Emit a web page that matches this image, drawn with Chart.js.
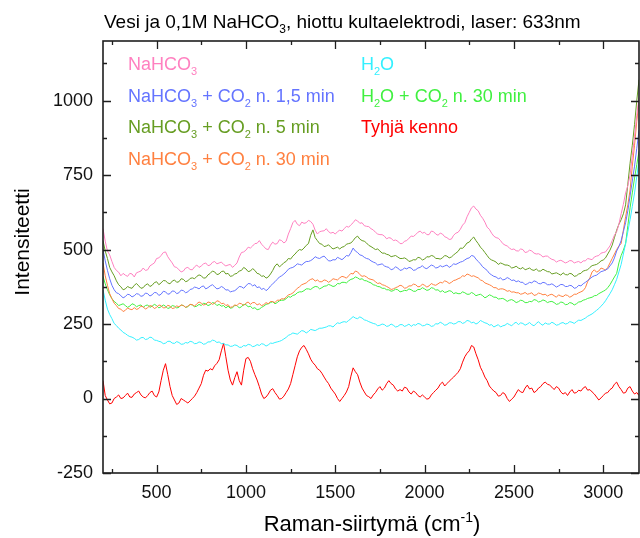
<!DOCTYPE html>
<html lang="fi">
<head>
<meta charset="UTF-8">
<title>Vesi ja 0,1M NaHCO3</title>
<script src="https://cdn.jsdelivr.net/npm/chart.js"></script>
<style>
  html, body { margin: 0; padding: 0; background: #fff; }
  #wrap { width: 640px; height: 538px; }
</style>
</head>
<body>
<div id="wrap"><canvas id="spectra" width="640" height="538"></canvas></div>
<script>
// Raman shift (cm-1)
const shifts = [
  200, 212.5, 225, 237.5, 250, 262.5, 275, 287.5, 300, 312.5, 325, 337.5, 350, 362.5, 375, 387.5, 400, 412.5, 425, 437.5,
  450, 462.5, 475, 487.5, 500, 512.5, 525, 537.5, 550, 562.5, 575, 587.5, 600, 612.5, 625, 637.5, 650, 662.5, 675, 687.5,
  700, 712.5, 725, 737.5, 750, 762.5, 775, 787.5, 800, 812.5, 825, 837.5, 850, 862.5, 875, 887.5, 900, 912.5, 925, 937.5,
  950, 962.5, 975, 987.5, 1000, 1012.5, 1025, 1037.5, 1050, 1062.5, 1075, 1087.5, 1100, 1112.5, 1125, 1137.5, 1150, 1162.5, 1175, 1187.5,
  1200, 1212.5, 1225, 1237.5, 1250, 1262.5, 1275, 1287.5, 1300, 1312.5, 1325, 1337.5, 1350, 1362.5, 1375, 1387.5, 1400, 1412.5, 1425, 1437.5,
  1450, 1462.5, 1475, 1487.5, 1500, 1512.5, 1525, 1537.5, 1550, 1562.5, 1575, 1587.5, 1600, 1612.5, 1625, 1637.5, 1650, 1662.5, 1675, 1687.5,
  1700, 1712.5, 1725, 1737.5, 1750, 1762.5, 1775, 1787.5, 1800, 1812.5, 1825, 1837.5, 1850, 1862.5, 1875, 1887.5, 1900, 1912.5, 1925, 1937.5,
  1950, 1962.5, 1975, 1987.5, 2000, 2012.5, 2025, 2037.5, 2050, 2062.5, 2075, 2087.5, 2100, 2112.5, 2125, 2137.5, 2150, 2162.5, 2175, 2187.5,
  2200, 2212.5, 2225, 2237.5, 2250, 2262.5, 2275, 2287.5, 2300, 2312.5, 2325, 2337.5, 2350, 2362.5, 2375, 2387.5, 2400, 2412.5, 2425, 2437.5,
  2450, 2462.5, 2475, 2487.5, 2500, 2512.5, 2525, 2537.5, 2550, 2562.5, 2575, 2587.5, 2600, 2612.5, 2625, 2637.5, 2650, 2662.5, 2675, 2687.5,
  2700, 2712.5, 2725, 2737.5, 2750, 2762.5, 2775, 2787.5, 2800, 2812.5, 2825, 2837.5, 2850, 2862.5, 2875, 2887.5, 2900, 2912.5, 2925, 2937.5,
  2950, 2962.5, 2975, 2987.5, 3000, 3012.5, 3025, 3037.5, 3050, 3062.5, 3075, 3087.5, 3100, 3112.5, 3125, 3137.5, 3150, 3162.5, 3175, 3187.5,
  3200
];

const nahco3 = [
  570, 528, 495, 482, 460, 440, 430, 424, 412, 420, 414, 410, 420, 418, 408, 422, 425, 428, 438, 430,
  432, 445, 450, 455, 470, 472, 480, 490, 492, 476, 465, 455, 442, 440, 432, 425, 428, 438, 440, 433,
  432, 442, 448, 440, 445, 452, 455, 446, 448, 457, 460, 452, 455, 458, 450, 445, 448, 450, 440, 447,
  455, 475, 490, 492, 498, 508, 505, 512, 520, 521, 530, 518, 510, 502, 500, 515, 525, 518, 520, 533,
  530, 522, 528, 552, 570, 590, 598, 585, 580, 592, 588, 590, 598, 594, 585, 565, 552, 560, 562, 563,
  570, 560, 555, 558, 552, 560, 565, 562, 570, 578, 575, 583, 590, 600, 596, 588, 590, 580, 578, 577,
  570, 566, 558, 552, 550, 550, 545, 536, 540, 538, 530, 532, 528, 520, 520, 528, 530, 538, 545, 544,
  550, 558, 562, 555, 558, 550, 550, 562, 560, 552, 548, 555, 552, 543, 540, 534, 535, 548, 555, 558,
  568, 582, 590, 610, 625, 640, 646, 636, 630, 615, 605, 592, 575, 568, 555, 545, 540, 538, 530, 520,
  515, 512, 505, 500, 502, 496, 495, 502, 500, 490, 492, 498, 495, 488, 485, 486, 482, 475, 478, 478,
  472, 467, 465, 458, 462, 464, 460, 455, 458, 463, 462, 455, 458, 460, 455, 462, 462, 470, 468, 466,
  475, 478, 480, 488, 490, 492, 502, 512, 530, 548, 560, 585, 620, 652, 690, 715, 750, 815, 880, 950,
  1010
];

const co2_15min = [
  500, 462, 430, 402, 380, 365, 355, 352, 345, 338, 342, 350, 348, 341, 345, 352, 350, 343, 345, 354,
  352, 344, 348, 356, 355, 346, 350, 360, 358, 350, 352, 361, 360, 352, 355, 364, 362, 355, 358, 366,
  368, 374, 372, 368, 375, 378, 368, 372, 378, 382, 375, 368, 370, 376, 372, 364, 365, 358, 360, 362,
  368, 376, 375, 370, 378, 386, 385, 378, 382, 372, 375, 366, 370, 362, 368, 378, 385, 392, 400, 408,
  412, 418, 425, 434, 438, 440, 445, 452, 450, 448, 455, 460, 460, 463, 468, 476, 472, 470, 475, 478,
  470, 462, 462, 466, 465, 474, 470, 466, 472, 480, 478, 490, 505, 495, 490, 482, 480, 474, 470, 468,
  462, 458, 455, 448, 450, 452, 445, 442, 440, 432, 435, 442, 438, 430, 432, 438, 435, 440, 438, 430,
  432, 438, 440, 446, 438, 436, 442, 448, 445, 438, 440, 446, 442, 445, 448, 440, 445, 452, 450, 454,
  458, 460, 465, 470, 472, 480, 478, 468, 460, 452, 442, 436, 430, 420, 415, 410, 408, 402, 405, 398,
  400, 406, 402, 396, 398, 392, 395, 390, 390, 382, 385, 390, 388, 395, 392, 386, 385, 390, 388, 382,
  382, 385, 380, 374, 378, 383, 382, 376, 376, 380, 378, 370, 372, 380, 378, 385, 390, 396, 402, 408,
  412, 414, 420, 426, 428, 432, 435, 445, 455, 472, 495, 510, 530, 560, 590, 630, 680, 730, 780, 840,
  900
];

const co2_5min = [
  530, 495, 470, 440, 425, 412, 395, 382, 375, 365, 368, 376, 372, 370, 380, 386, 378, 370, 372, 381,
  385, 376, 380, 389, 392, 382, 388, 396, 395, 388, 385, 394, 398, 390, 392, 402, 400, 392, 395, 403,
  405, 402, 410, 415, 412, 404, 405, 415, 420, 428, 425, 416, 418, 426, 428, 418, 420, 410, 412, 418,
  420, 428, 430, 440, 435, 426, 428, 436, 430, 420, 418, 410, 412, 404, 408, 418, 430, 445, 452, 442,
  448, 456, 460, 470, 468, 478, 485, 494, 500, 498, 505, 514, 520, 548, 566, 540, 530, 520, 518, 510,
  512, 516, 508, 502, 505, 508, 502, 508, 510, 518, 520, 522, 530, 540, 545, 535, 530, 528, 522, 514,
  510, 505, 500, 502, 495, 488, 488, 484, 482, 476, 478, 480, 475, 470, 470, 472, 468, 460, 462, 466,
  465, 474, 472, 465, 468, 476, 475, 480, 478, 470, 470, 468, 472, 480, 478, 472, 475, 482, 488, 494,
  505, 504, 512, 522, 525, 535, 542, 530, 520, 508, 500, 490, 480, 470, 465, 462, 458, 450, 455, 452,
  448, 448, 445, 438, 440, 444, 438, 435, 440, 432, 435, 438, 432, 430, 435, 428, 428, 434, 430, 426,
  425, 418, 420, 422, 418, 414, 422, 416, 415, 420, 418, 410, 412, 418, 420, 428, 430, 432, 440, 446,
  448, 450, 455, 462, 465, 472, 485, 498, 515, 540, 565, 585, 600, 620, 650, 720, 790, 850, 920, 1000,
  1070
];

const co2_30min = [
  455, 412, 380, 352, 335, 320, 312, 302, 300, 292, 296, 304, 300, 298, 305, 299, 302, 310, 308, 300,
  305, 312, 310, 302, 306, 314, 312, 304, 305, 313, 310, 302, 304, 311, 308, 314, 312, 306, 310, 316,
  315, 310, 318, 324, 320, 314, 316, 324, 322, 316, 320, 328, 326, 318, 320, 312, 315, 306, 308, 314,
  312, 320, 318, 312, 320, 324, 316, 322, 322, 314, 318, 312, 315, 322, 318, 326, 325, 322, 330, 330,
  335, 334, 340, 348, 350, 354, 362, 370, 375, 382, 385, 388, 395, 400, 402, 394, 398, 392, 392, 398,
  396, 390, 395, 402, 400, 398, 405, 410, 408, 404, 412, 420, 418, 428, 425, 416, 410, 412, 408, 402,
  400, 398, 392, 386, 388, 382, 380, 376, 372, 366, 368, 372, 375, 380, 378, 370, 372, 378, 378, 384,
  382, 375, 376, 384, 380, 374, 378, 386, 382, 380, 385, 390, 388, 395, 392, 386, 390, 396, 398, 402,
  405, 412, 410, 418, 415, 410, 412, 408, 405, 398, 395, 388, 385, 382, 378, 372, 372, 366, 368, 368,
  365, 360, 362, 357, 358, 355, 355, 350, 352, 356, 350, 352, 355, 346, 348, 354, 352, 348, 350, 344,
  348, 350, 345, 340, 348, 344, 342, 348, 346, 340, 344, 350, 350, 355, 358, 362, 372, 392, 405, 425,
  432, 424, 428, 438, 435, 430, 440, 455, 470, 485, 500, 512, 520, 565, 610, 650, 700, 780, 850, 930,
  1000
];

const h2o = [
  365, 330, 300, 282, 268, 252, 245, 236, 230, 222, 218, 212, 208, 206, 202, 196, 198, 204, 205, 198,
  200, 206, 204, 196, 195, 192, 190, 184, 186, 192, 192, 186, 185, 191, 188, 182, 183, 188, 186, 192,
  190, 184, 185, 190, 188, 182, 184, 190, 190, 196, 194, 188, 190, 184, 185, 180, 180, 175, 176, 180,
  178, 172, 172, 178, 176, 182, 180, 174, 176, 181, 178, 184, 182, 176, 180, 186, 185, 188, 190, 192,
  195, 200, 205, 212, 215, 220, 218, 216, 222, 228, 226, 220, 225, 232, 230, 228, 232, 236, 236, 238,
  240, 244, 244, 240, 248, 254, 252, 256, 258, 256, 262, 268, 275, 270, 268, 274, 270, 264, 262, 258,
  255, 252, 250, 244, 246, 250, 248, 242, 244, 250, 246, 240, 242, 248, 248, 242, 245, 250, 242, 248,
  246, 252, 250, 244, 245, 250, 248, 242, 244, 251, 250, 256, 252, 246, 248, 254, 254, 250, 252, 258,
  258, 252, 255, 262, 260, 254, 256, 250, 254, 262, 258, 254, 252, 246, 248, 240, 244, 248, 240, 244,
  246, 252, 248, 244, 252, 256, 248, 254, 252, 246, 250, 255, 248, 244, 252, 258, 250, 246, 254, 250,
  250, 256, 252, 246, 248, 253, 255, 250, 252, 258, 256, 252, 258, 263, 262, 266, 270, 276, 280, 284,
  290, 296, 302, 310, 318, 328, 340, 352, 365, 382, 400, 425, 450, 485, 520, 560, 600, 645, 690, 745,
  800
];

const h2o_co2 = [
  410, 385, 365, 348, 335, 326, 320, 312, 315, 318, 312, 306, 310, 318, 315, 308, 312, 314, 306, 312,
  314, 306, 310, 316, 312, 304, 308, 314, 310, 302, 305, 312, 310, 304, 306, 314, 312, 306, 308, 316,
  314, 308, 310, 316, 312, 320, 318, 312, 315, 322, 320, 312, 316, 310, 312, 304, 310, 303, 305, 312,
  312, 304, 308, 316, 315, 308, 310, 302, 305, 298, 300, 306, 310, 316, 318, 322, 325, 318, 322, 328,
  330, 330, 335, 342, 340, 346, 348, 355, 358, 358, 362, 368, 368, 366, 372, 376, 375, 368, 372, 377,
  378, 383, 380, 376, 378, 386, 385, 390, 390, 388, 395, 400, 402, 408, 405, 400, 402, 396, 395, 391,
  388, 382, 380, 376, 375, 370, 370, 365, 365, 360, 362, 367, 365, 358, 360, 363, 362, 368, 365, 360,
  360, 366, 366, 372, 368, 363, 365, 372, 370, 364, 365, 358, 362, 356, 358, 362, 360, 352, 355, 352,
  352, 358, 355, 350, 350, 356, 352, 345, 348, 350, 345, 338, 342, 348, 345, 340, 340, 334, 335, 336,
  332, 326, 330, 332, 328, 322, 325, 330, 328, 322, 322, 326, 325, 332, 330, 324, 326, 331, 328, 322,
  325, 326, 322, 316, 318, 324, 322, 315, 316, 322, 320, 314, 318, 324, 325, 330, 332, 336, 338, 340,
  345, 346, 352, 356, 360, 364, 372, 382, 395, 408, 420, 455, 480, 498, 520, 580, 640, 690, 740, 785,
  830
];

const empty_cell = [
  60, 10, -5, -18, -15, 0, 5, 12, 0, 2, 10, 18, 5, 4, 15, 20, 25, 12, 5, 2,
  10, 20, 25, 10, 5, 22, 60, 95, 117, 80, 40, 10, -5, -20, -15, 0, -5, -10, -15, -8,
  0, 8, 20, 35, 50, 78, 95, 92, 100, 96, 110, 118, 130, 160, 185, 140, 95, 62, 45, 70,
  90, 60, 45, 95, 134, 138, 125, 100, 80, 62, 40, 15, 0, 5, 15, 28, 33, 20, 10, -2,
  0, 8, 20, 32, 50, 80, 110, 140, 160, 172, 178, 165, 150, 132, 120, 112, 100, 95, 85, 72,
  60, 50, 35, 25, 15, 0, -10, 0, 10, 22, 40, 75, 103, 90, 80, 55, 35, 22, 10, 6,
  0, 12, 20, 32, 40, 28, 35, 50, 60, 50, 45, 32, 25, 30, 25, 38, 35, 22, 15, 25,
  20, 10, 5, 12, 5, -2, 0, 12, 20, 28, 35, 48, 55, 42, 50, 58, 65, 72, 80, 88,
  100, 122, 140, 152, 160, 178, 173, 150, 130, 105, 90, 72, 60, 42, 33, 25, 20, 8, 10, 20,
  15, 0, -10, -2, 5, 18, 30, 22, 20, 35, 45, 32, 35, 20, 25, 35, 40, 50, 55, 48,
  45, 38, 30, 40, 35, 22, 15, 20, 10, 22, 30, 18, 20, 28, 25, 35, 40, 28, 30, 22,
  15, 5, -5, 2, 10, 18, 20, 30, 35, 48, 55, 40, 30, 18, 20, 35, 40, 25, 15, 20,
  10
];

const xTicks = [500, 1000, 1500, 2000, 2500, 3000];
const yTicks = [-250, 0, 250, 500, 750, 1000];

// label pieces: [text, 'sub' | 'sup' | '']
const series = [
  { name: [['NaHCO', ''], ['3', 'sub']], color: '#ff80c0', data: nahco3 },
  { name: [['NaHCO', ''], ['3', 'sub'], [' + CO', ''], ['2', 'sub'], [' n. 1,5 min', '']], color: '#6474ff', data: co2_15min },
  { name: [['NaHCO', ''], ['3', 'sub'], [' + CO', ''], ['2', 'sub'], [' n. 5 min', '']], color: '#669d22', data: co2_5min },
  { name: [['NaHCO', ''], ['3', 'sub'], [' + CO', ''], ['2', 'sub'], [' n. 30 min', '']], color: '#ff8040', data: co2_30min },
  { name: [['H', ''], ['2', 'sub'], ['O', '']], color: '#33f0ff', data: h2o },
  { name: [['H', ''], ['2', 'sub'], ['O + CO', ''], ['2', 'sub'], [' n. 30 min', '']], color: '#40f040', data: h2o_co2 },
  { name: [['Tyhjä kenno', '']], color: '#ff0000', data: empty_cell }
];

const FONT = '"Liberation Sans", Arial, sans-serif';

function drawRich(ctx, parts, x, y, size, color, align) {
  const widths = parts.map(p => {
    ctx.font = (p[1] ? Math.round(size * 0.62) : size) + 'px ' + FONT;
    return ctx.measureText(p[0]).width;
  });
  const total = widths.reduce((a, b) => a + b, 0);
  let cx = align === 'center' ? x - total / 2 : x;
  ctx.fillStyle = color;
  ctx.textAlign = 'left';
  ctx.textBaseline = 'alphabetic';
  parts.forEach((p, i) => {
    ctx.font = (p[1] ? Math.round(size * 0.62) : size) + 'px ' + FONT;
    let dy = 0;
    if (p[1] === 'sub') dy = size * 0.28;
    if (p[1] === 'sup') dy = -size * 0.42;
    ctx.fillText(p[0], cx, y + dy);
    cx += widths[i];
  });
}

const frameTicks = {
  id: 'frameTicks',
  afterDatasetsDraw(chart) {
    const { ctx, chartArea: a, scales: { x, y } } = chart;
    const major = 8, minor = 4;
    const xs = xTicks[1] - xTicks[0], ys = yTicks[1] - yTicks[0];
    ctx.save();
    ctx.strokeStyle = '#1e1e1e';
    ctx.lineWidth = 1.3;
    ctx.beginPath();
    for (let v = xTicks[0] - xs / 2; v <= x.max; v += xs / 2) {
      if (v < x.min) continue;
      const len = xTicks.includes(v) ? major : minor;
      const px = Math.round(x.getPixelForValue(v)) + 0.5;
      ctx.moveTo(px, a.bottom); ctx.lineTo(px, a.bottom - len);
      ctx.moveTo(px, a.top); ctx.lineTo(px, a.top + len);
    }
    for (let v = yTicks[0]; v <= y.max; v += ys / 2) {
      const len = yTicks.includes(v) ? major : minor;
      const py = Math.round(y.getPixelForValue(v)) + 0.5;
      ctx.moveTo(a.left, py); ctx.lineTo(a.left + len, py);
      ctx.moveTo(a.right, py); ctx.lineTo(a.right - len, py);
    }
    ctx.stroke();
    ctx.lineWidth = 1.6;
    ctx.strokeRect(a.left, a.top, a.right - a.left, a.bottom - a.top);
    ctx.restore();
  },
  afterDraw(chart) {
    const ctx = chart.ctx;
    ctx.save();
    // title
    drawRich(ctx, [['Vesi ja 0,1M NaHCO', ''], ['3', 'sub'], [', hiottu kultaelektrodi, laser: 633nm', '']],
      104, 28, 19, '#000', 'left');
    // axis titles
    drawRich(ctx, [['Raman-siirtymä (cm', ''], ['-1', 'sup'], [')', '']], 372, 531, 22, '#000', 'center');
    ctx.save();
    ctx.translate(29, 242);
    ctx.rotate(-Math.PI / 2);
    drawRich(ctx, [['Intensiteetti', '']], 0, 0, 21, '#000', 'center');
    ctx.restore();
    // legend, two columns of coloured text
    const cols = [128, 361];
    series.forEach((s, i) => {
      const col = i < 4 ? 0 : 1;
      const row = i < 4 ? i : i - 4;
      drawRich(ctx, s.name, cols[col], 70 + row * 31.5, 18, s.color, 'left');
    });
    ctx.restore();
  }
};

new Chart(document.getElementById('spectra'), {
  type: 'line',
  data: {
    labels: shifts,
    datasets: series.map(s => ({
      data: s.data,
      borderColor: s.color,
      backgroundColor: s.color,
      borderWidth: 1,
      pointRadius: 0,
      tension: 0,
      fill: false
    }))
  },
  options: {
    responsive: false,
    animation: false,
    events: [],
    layout: { padding: { top: 41, right: 1, left: 0, bottom: 0 } },
    plugins: { legend: { display: false }, title: { display: false }, tooltip: { enabled: false } },
    scales: {
      x: {
        type: 'linear',
        min: 200,
        max: 3200,
        afterBuildTicks: s => { s.ticks = xTicks.map(v => ({ value: v })); },
        afterFit: s => { s.height = 65; },
        grid: { display: false, drawTicks: false },
        border: { display: false },
        ticks: { font: { family: FONT, size: 18 }, color: '#111', padding: 9, maxRotation: 0, callback: v => String(v) }
      },
      y: {
        min: -250,
        max: 1200,
        afterBuildTicks: s => { s.ticks = yTicks.map(v => ({ value: v })); },
        afterFit: s => { s.width = 103; },
        grid: { display: false, drawTicks: false },
        border: { display: false },
        ticks: { font: { family: FONT, size: 18 }, color: '#111', padding: 10, callback: v => String(v) }
      }
    }
  },
  plugins: [frameTicks]
});
</script>
</body>
</html>
